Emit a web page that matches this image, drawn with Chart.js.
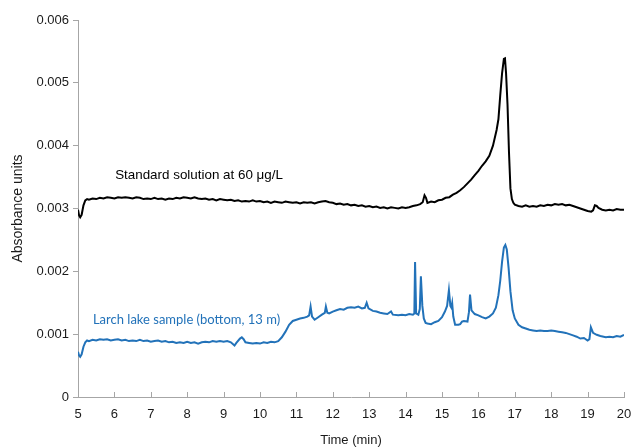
<!DOCTYPE html>
<html>
<head>
<meta charset="utf-8">
<script src="https://cdn.jsdelivr.net/npm/chart.js@4.4.1/dist/chart.umd.min.js"></script>
<style>
  html, body { margin: 0; padding: 0; background: #fff; }
  #chart { display: block; }
</style>
</head>
<body>
<canvas id="chart" width="633" height="448"></canvas>
<script>
// Standard solution trace (black)
const stdTime = [
  5.00, 5.03, 5.06, 5.10, 5.15, 5.20, 5.25, 5.30, 5.4, 5.5, 5.6, 5.7, 5.8, 5.9,
  6.0, 6.1, 6.2, 6.3, 6.4, 6.5, 6.6, 6.7, 6.8, 6.9, 7.0, 7.1, 7.2, 7.3, 7.4, 7.5,
  7.6, 7.7, 7.8, 7.9, 8.0, 8.1, 8.2, 8.3, 8.4, 8.5, 8.6, 8.7, 8.8, 8.9, 9.0, 9.1,
  9.2, 9.3, 9.4, 9.5, 9.6, 9.7, 9.8, 9.9, 10.0, 10.1, 10.2, 10.3, 10.4, 10.5,
  10.6, 10.7, 10.8, 10.9, 11.0, 11.1, 11.2, 11.3, 11.4, 11.5, 11.6, 11.7, 11.8,
  11.9, 12.0, 12.1, 12.2, 12.3, 12.4, 12.5, 12.6, 12.7, 12.8, 12.9, 13.0, 13.1,
  13.2, 13.3, 13.4, 13.5, 13.6, 13.7, 13.8, 13.9, 14.0, 14.1, 14.2, 14.3, 14.4,
  14.47, 14.52, 14.56, 14.6, 14.7, 14.8, 14.9, 15.0, 15.1, 15.2, 15.3, 15.4, 15.5,
  15.6, 15.7, 15.8, 15.9, 16.0, 16.1, 16.2, 16.3, 16.4, 16.5, 16.55, 16.6, 16.65,
  16.70, 16.73, 16.76, 16.80, 16.84, 16.88, 16.92, 16.96, 17.0, 17.1, 17.2, 17.3,
  17.4, 17.5, 17.6, 17.7, 17.8, 17.9, 18.0, 18.1, 18.2, 18.3, 18.4, 18.5, 18.6,
  18.7, 18.8, 18.9, 19.0, 19.1, 19.15, 19.2, 19.25, 19.3, 19.4, 19.5, 19.6, 19.7,
  19.8, 19.9, 20.0
];
const stdAbs = [
  0.00298, 0.00289, 0.00286, 0.00290, 0.00305, 0.00313, 0.00315, 0.00314, 0.00316, 0.00315, 0.00317, 0.00316, 0.00318, 0.00317,
  0.00316, 0.00318, 0.00317, 0.00318, 0.00317, 0.00316, 0.00318, 0.00317, 0.00315, 0.00316, 0.00315, 0.00317, 0.00315, 0.00316, 0.00314, 0.00316,
  0.00315, 0.00317, 0.00316, 0.00318, 0.00317, 0.00316, 0.00318, 0.00316, 0.00315, 0.00316, 0.00314, 0.00315, 0.00313, 0.00315, 0.00314, 0.00313,
  0.00314, 0.00312, 0.00313, 0.00311, 0.00312, 0.00311, 0.00313, 0.00311, 0.00312, 0.00310, 0.00311, 0.00309, 0.00311, 0.00310,
  0.00309, 0.00311, 0.00310, 0.00309, 0.00310, 0.00308, 0.00310, 0.00309, 0.00310, 0.00308, 0.00310, 0.00311, 0.00312,
  0.00310, 0.00309, 0.00307, 0.00308, 0.00306, 0.00307, 0.00305, 0.00306, 0.00304, 0.00305, 0.00303, 0.00304, 0.00302,
  0.00303, 0.00301, 0.00302, 0.00300, 0.00302, 0.00301, 0.00300, 0.00302, 0.00301, 0.00302, 0.00304, 0.00305, 0.00307,
  0.00310, 0.00321, 0.00317, 0.00309, 0.00311, 0.00310, 0.00313, 0.00314, 0.00317, 0.00318, 0.00322, 0.00325, 0.00329,
  0.00334, 0.00340, 0.00346, 0.00353, 0.00360, 0.00368, 0.00375, 0.00384, 0.00400, 0.00425, 0.00442, 0.00480, 0.00515,
  0.00538, 0.00539, 0.00515, 0.00465, 0.00390, 0.00332, 0.00315, 0.00309, 0.00306, 0.00304, 0.00303, 0.00305,
  0.00303, 0.00304, 0.00303, 0.00305, 0.00304, 0.00306, 0.00305, 0.00307, 0.00306, 0.00307, 0.00305, 0.00306, 0.00304,
  0.00302, 0.00300, 0.00298, 0.00296, 0.00295, 0.00297, 0.00305, 0.00304, 0.00301, 0.00298, 0.00297, 0.00298, 0.00297,
  0.00299, 0.00298, 0.00298
];

// Larch lake sample trace (blue)
const lakeTime = [
  5.00, 5.03, 5.06, 5.10, 5.15, 5.20, 5.25, 5.3, 5.4, 5.5, 5.6, 5.7, 5.8, 5.9,
  6.0, 6.1, 6.2, 6.3, 6.4, 6.5, 6.6, 6.7, 6.8, 6.9, 7.0, 7.1, 7.2, 7.3, 7.4, 7.5,
  7.6, 7.7, 7.8, 7.9, 8.0, 8.1, 8.2, 8.3, 8.4, 8.5, 8.6, 8.7, 8.8, 8.9, 9.0, 9.1,
  9.2, 9.3, 9.35, 9.45, 9.5, 9.55, 9.6, 9.7, 9.8, 9.9, 10.0, 10.1, 10.2, 10.3,
  10.4, 10.5, 10.6, 10.7, 10.8, 10.9, 11.0, 11.1, 11.2, 11.3, 11.35, 11.39, 11.43,
  11.5, 11.6, 11.7, 11.78, 11.81, 11.85, 11.9, 12.0, 12.1, 12.2, 12.3, 12.4, 12.5,
  12.6, 12.7, 12.8, 12.88, 12.93, 12.98, 13.1, 13.2, 13.3, 13.4, 13.5, 13.6, 13.65,
  13.8, 13.9, 14.0, 14.1, 14.2, 14.24, 14.26, 14.29, 14.35, 14.39, 14.42, 14.46,
  14.5, 14.55, 14.6, 14.7, 14.8, 14.9, 15.0, 15.08, 15.14, 15.19, 15.23, 15.26,
  15.28, 15.31, 15.36, 15.45, 15.5, 15.55, 15.6, 15.7, 15.74, 15.77, 15.81, 15.9,
  16.0, 16.1, 16.2, 16.3, 16.4, 16.48, 16.55, 16.6, 16.65, 16.7, 16.74, 16.78,
  16.83, 16.88, 16.94, 17.0, 17.1, 17.2, 17.3, 17.4, 17.5, 17.6, 17.7, 17.8, 17.9,
  18.0, 18.1, 18.2, 18.3, 18.4, 18.5, 18.6, 18.7, 18.8, 18.9, 19.0, 19.05, 19.09,
  19.15, 19.25, 19.35, 19.5, 19.6, 19.7, 19.8, 19.9, 20.0
];
const lakeAbs = [
  0.00072, 0.00066, 0.00064, 0.00068, 0.00080, 0.00087, 0.00090, 0.00089, 0.00091, 0.00090, 0.00092, 0.00091, 0.00092, 0.00090,
  0.00091, 0.00092, 0.00090, 0.00091, 0.00089, 0.00090, 0.00089, 0.00091, 0.00089, 0.00090, 0.00088, 0.00089, 0.00090, 0.00088, 0.00089, 0.00087,
  0.00088, 0.00086, 0.00087, 0.00086, 0.00088, 0.00086, 0.00087, 0.00085, 0.00087, 0.00088, 0.00087, 0.00089, 0.00088, 0.00089, 0.00088, 0.00089,
  0.00087, 0.00082, 0.00086, 0.00093, 0.00095, 0.00092, 0.00087, 0.00086, 0.00085, 0.00086, 0.00085, 0.00087, 0.00086, 0.00088,
  0.00087, 0.00089, 0.00095, 0.00104, 0.00115, 0.00121, 0.00123, 0.00125, 0.00126, 0.00128, 0.00130, 0.00144, 0.00128,
  0.00123, 0.00127, 0.00131, 0.00134, 0.00144, 0.00134, 0.00133, 0.00136, 0.00138, 0.00140, 0.00139, 0.00142, 0.00143,
  0.00142, 0.00144, 0.00141, 0.00142, 0.00150, 0.00141, 0.00137, 0.00136, 0.00134, 0.00133, 0.00132, 0.00136, 0.00131,
  0.00130, 0.00131, 0.00130, 0.00132, 0.00131, 0.00133, 0.00215, 0.00133, 0.00131, 0.00140, 0.00192, 0.00145,
  0.00125, 0.00118, 0.00117, 0.00116, 0.00119, 0.00121, 0.00127, 0.00136, 0.00145, 0.00170, 0.00145, 0.00142,
  0.00149, 0.00128, 0.00115, 0.00115, 0.00116, 0.00120, 0.00121, 0.00120, 0.00135, 0.00163, 0.00138, 0.00132,
  0.00130, 0.00127, 0.00125, 0.00128, 0.00133, 0.00142, 0.00162, 0.00185, 0.00215, 0.00238, 0.00242, 0.00235,
  0.00205, 0.00168, 0.00138, 0.00125, 0.00115, 0.00111, 0.00109, 0.00107, 0.00106, 0.00105, 0.00106, 0.00105, 0.00105,
  0.00106, 0.00105, 0.00104, 0.00103, 0.00102, 0.00100, 0.00098, 0.00096, 0.00093, 0.00094, 0.00090, 0.00092, 0.00111,
  0.00102, 0.00099, 0.00097, 0.00095, 0.00096, 0.00095, 0.00097, 0.00096, 0.00099
];

const xTicks = [5, 6, 7, 8, 9, 10, 11, 12, 13, 14, 15, 16, 17, 18, 19, 20];
const yTicks = [0, 0.001, 0.002, 0.003, 0.004, 0.005, 0.006];

const seriesLabels = ["Standard solution at 60 \u03bcg/L", "Larch lake sample (bottom, 13 m)"];
const seriesColors = ["#000000", "#2272b9"];
// where each series' label sits, in data units [time, absorbance]
const labelSpots = [[6.02, 0.00353], [5.41, 0.001225]];

const axisGray = "#a6a6a6";

function toPoints(xs, ys) {
  return xs.map((x, i) => ({ x: x, y: ys[i] }));
}

// inward tick marks on the time axis + the text labels next to the traces
const decorations = {
  id: "decorations",
  afterDraw(chart) {
    const ctx = chart.ctx;
    const xs = chart.scales.x;
    const ys = chart.scales.y;
    const bottom = chart.chartArea.bottom;

    ctx.save();
    ctx.strokeStyle = axisGray;
    ctx.lineWidth = 1;
    xTicks.forEach(t => {
      const px = Math.round(xs.getPixelForValue(t)) + 0.5;
      ctx.beginPath();
      ctx.moveTo(px, bottom);
      ctx.lineTo(px, bottom - 5);
      ctx.stroke();
    });

    ctx.textBaseline = "middle";
    ctx.textAlign = "left";
    ctx.fillStyle = seriesColors[0];
    ctx.font = "13.4px 'Liberation Sans', Arial, sans-serif";
    ctx.fillText(seriesLabels[0], xs.getPixelForValue(labelSpots[0][0]), ys.getPixelForValue(labelSpots[0][1]));
    ctx.fillStyle = seriesColors[1];
    ctx.font = "13px Lato, 'Open Sans', sans-serif";
    ctx.fillText(seriesLabels[1], xs.getPixelForValue(labelSpots[1][0]), ys.getPixelForValue(labelSpots[1][1]));
    ctx.restore();
  }
};

const tickFont = { family: "'Liberation Sans', Arial, sans-serif", size: 13 };

new Chart(document.getElementById("chart"), {
  type: "line",
  data: {
    datasets: [
      {
        label: seriesLabels[0],
        data: toPoints(stdTime, stdAbs),
        borderColor: seriesColors[0],
        borderWidth: 2,
        pointRadius: 0,
        tension: 0
      },
      {
        label: seriesLabels[1],
        data: toPoints(lakeTime, lakeAbs),
        borderColor: seriesColors[1],
        borderWidth: 2,
        pointRadius: 0,
        tension: 0
      }
    ]
  },
  options: {
    responsive: false,
    animation: false,
    layout: { padding: { top: 20, right: 9, left: 0, bottom: 0 } },
    plugins: {
      legend: { display: false },
      tooltip: { enabled: false }
    },
    scales: {
      x: {
        type: "linear",
        min: 5,
        max: 20,
        afterBuildTicks: scale => { scale.ticks = xTicks.map(v => ({ value: v })); },
        afterFit: scale => {
          scale.height = 51;
          scale.paddingLeft = 0;
          scale.paddingRight = 0;
        },
        grid: { display: false, drawTicks: false },
        border: { display: true, color: axisGray, width: 1 },
        ticks: { font: tickFont, color: "#1a1a1a", padding: 10, maxRotation: 0 },
        title: {
          display: true,
          text: "Time (min)",
          font: tickFont,
          color: "#1a1a1a",
          padding: { top: 4, bottom: 0 }
        }
      },
      y: {
        min: 0,
        max: 0.006,
        afterBuildTicks: scale => { scale.ticks = yTicks.map(v => ({ value: v })); },
        afterFit: scale => {
          scale.width = 78;
          scale.paddingTop = 0;
          scale.paddingBottom = 0;
        },
        grid: { drawOnChartArea: false, drawTicks: true, tickLength: 5, color: axisGray },
        border: { display: true, color: axisGray, width: 1 },
        ticks: {
          font: tickFont,
          color: "#1a1a1a",
          padding: 4,
          callback: v => (v === 0 ? "0" : v.toFixed(3))
        },
        title: {
          display: true,
          text: "Absorbance units",
          font: { family: tickFont.family, size: 14 },
          color: "#1a1a1a",
          padding: { top: 10, bottom: 0 }
        }
      }
    }
  },
  plugins: [decorations]
});
</script>
</body>
</html>
